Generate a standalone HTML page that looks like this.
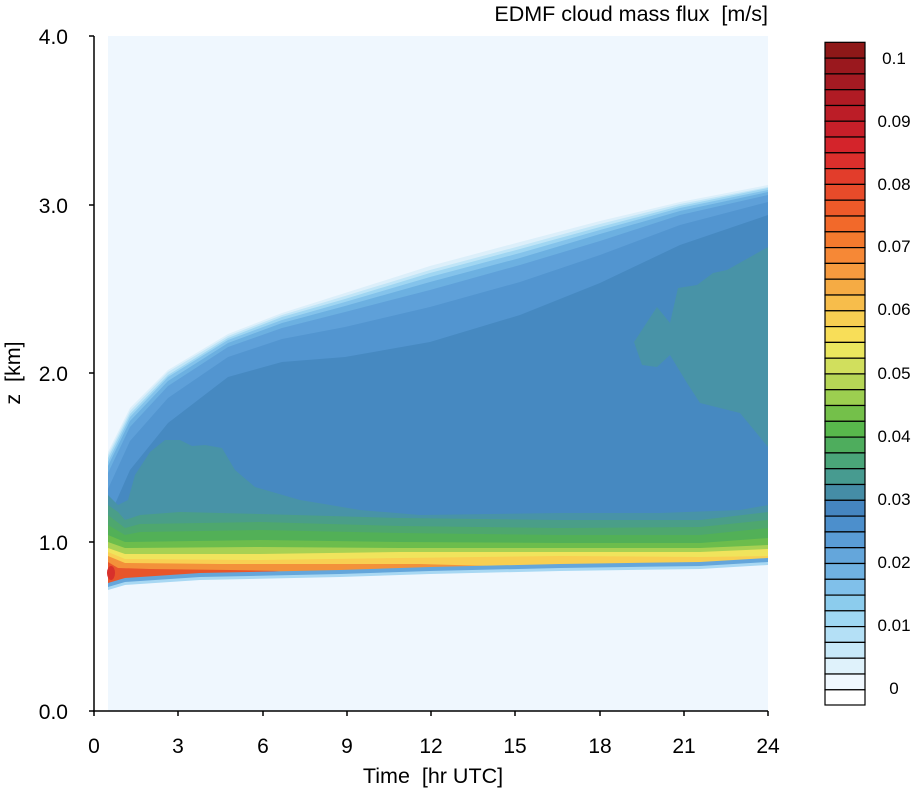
<!DOCTYPE html>
<html><head><meta charset="utf-8"><style>
html,body{margin:0;padding:0;background:#fff;}
svg{display:block;font-family:"Liberation Sans",sans-serif;}
text{white-space:pre;}
</style></head><body>
<svg width="913" height="792" viewBox="0 0 913 792" xmlns="http://www.w3.org/2000/svg">
<rect x="108" y="36" width="660" height="675" fill="#eff7fe"/>
<g stroke="none">
<polygon fill="#dceffa" points="108,452 130,408 168,370 228,334 282,313 345,293 430,266 520,242 600,221 680,202 768,185 768,600 108,600"/>
<polygon fill="#c0e5f7" points="108,455 130,411 168,372 228,336 282,315 345,296 430,270 520,246 600,224 680,204 768,187 768,600 108,600"/>
<polygon fill="#a0d6f2" points="108,458 130,414 168,375 228,338 282,317 345,299 430,273 520,249 600,227 680,206 768,188 768,600 108,600"/>
<polygon fill="#84c3eb" points="108,462 130,417 168,377 228,340 282,320 345,302 430,277 520,253 600,230 680,208 768,190 768,600 108,600"/>
<polygon fill="#6cb0e1" points="108,466 130,421 168,381 228,343 282,323 345,306 430,282 520,258 600,234 680,211 768,192 768,600 108,600"/>
<polygon fill="#5ea0d9" points="108,473 130,427 168,386 228,347 282,328 345,312 430,290 520,265 600,241 680,215 768,195 768,600 108,600"/>
<polygon fill="#5295d0" points="108,489 130,441 168,398 228,357 282,339 345,327 430,307 520,282 600,255 680,225 768,202 768,600 108,600"/>
<polygon fill="#4689c1" points="108,520 130,470 168,423 228,377 282,362 345,357 430,342 520,315 600,283 680,245 768,215 768,600 108,600"/>
<polygon fill="#4893a7" points="108,495 118,505 128,500 135,475 150,452 165,440 180,440 192,446 205,445 222,448 235,470 255,487 300,500 360,510 420,515 560,513 660,513 740,510 768,505 768,600 108,600"/>
<polygon fill="#4893a7" points="634,342 657,307 670,323 678,288 697,285 713,273 727,270 768,247 768,447 740,413 700,403 687,383 670,355 657,367 642,365"/>
<polygon fill="#4a9e88" points="108,505 118,512 125,520 140,515 180,512 260,514 400,518 560,520 700,520 768,512 768,600 108,600"/>
<polygon fill="#4ea76e" points="108,515 125,528 140,524 260,522 400,526 560,528 700,527 768,520 768,600 108,600"/>
<polygon fill="#52b057" points="108,525 125,535 140,532 260,530 400,533 560,535 700,535 768,528 768,600 108,600"/>
<polygon fill="#6cbd4c" points="108,535 125,542 260,540 400,542 560,543 700,543 768,538 768,600 108,600"/>
<polygon fill="#a8d153" points="108,542 125,548 260,547 400,548 560,548 700,548 768,545 768,600 108,600"/>
<polygon fill="#f0e45c" points="108,548 125,554 260,554 400,552 560,552 700,552 768,549 768,600 108,600"/>
<polygon fill="#f8cf52" points="108,552 125,559 260,560 400,558 560,556 700,557 768,556 768,600 108,600"/>
<polygon fill="#f3913a" points="108,556 125,563 220,564 340,564 420,564 490,566 510,572 108,590"/>
<polygon fill="#e8552b" points="108,562 118,568 150,569 230,570 280,571 240,574 108,590"/>
<ellipse cx="111" cy="573" rx="4" ry="7" fill="#d8302b"/>
<polygon fill="#64a6db" points="108,583 125,578 200,573 340,570 430,567 560,564 700,562 768,558 768,711 108,711"/>
<polygon fill="#a8d8f3" points="108,587 125,582 200,577 340,574 430,571 560,568 700,566 768,562 768,711 108,711"/>
<polygon fill="#eff7fe" points="108,590 125,585 200,580 340,577 430,574 560,571 700,569 768,565 768,711 108,711"/>
</g>
<g stroke="#000" stroke-width="1.5" fill="none">
<line x1="94" y1="36" x2="94" y2="712"/>
<line x1="93" y1="711" x2="768" y2="711"/>
<line x1="89" y1="36" x2="94" y2="36"/><line x1="89" y1="205" x2="94" y2="205"/><line x1="89" y1="373" x2="94" y2="373"/><line x1="89" y1="542" x2="94" y2="542"/><line x1="89" y1="711" x2="94" y2="711"/>
<line x1="94" y1="711" x2="94" y2="716"/><line x1="178" y1="711" x2="178" y2="716"/><line x1="263" y1="711" x2="263" y2="716"/><line x1="347" y1="711" x2="347" y2="716"/><line x1="431" y1="711" x2="431" y2="716"/><line x1="515" y1="711" x2="515" y2="716"/><line x1="600" y1="711" x2="600" y2="716"/><line x1="684" y1="711" x2="684" y2="716"/><line x1="768" y1="711" x2="768" y2="716"/>
</g>
<g font-size="21" fill="#000" text-anchor="end">
<text x="68" y="44">4.0</text><text x="68" y="213">3.0</text><text x="68" y="381">2.0</text><text x="68" y="550">1.0</text><text x="68" y="719">0.0</text>
</g>
<g font-size="21" fill="#000" text-anchor="middle">
<text x="94" y="753">0</text><text x="178" y="753">3</text><text x="263" y="753">6</text><text x="347" y="753">9</text><text x="431" y="753">12</text><text x="515" y="753">15</text><text x="600" y="753">18</text><text x="684" y="753">21</text><text x="768" y="753">24</text>
</g>
<text x="433" y="783" font-size="21.5" text-anchor="middle">Time  [hr UTC]</text>
<text transform="translate(20,373) rotate(-90)" font-size="21.5" text-anchor="middle">z  [km]</text>
<text x="768" y="21" font-size="21.5" text-anchor="end">EDMF cloud mass flux  [m/s]</text>
<g stroke="#000" stroke-width="1.2">
<rect x="825" y="42.3" width="40" height="15.79" fill="#8e1818"/>
<rect x="825" y="58.1" width="40" height="15.79" fill="#9a181e"/>
<rect x="825" y="73.9" width="40" height="15.79" fill="#a41a22"/>
<rect x="825" y="89.7" width="40" height="15.79" fill="#b01b24"/>
<rect x="825" y="105.5" width="40" height="15.79" fill="#bc1d27"/>
<rect x="825" y="121.2" width="40" height="15.79" fill="#c71f29"/>
<rect x="825" y="137.0" width="40" height="15.79" fill="#d4242b"/>
<rect x="825" y="152.8" width="40" height="15.79" fill="#dc2f2c"/>
<rect x="825" y="168.6" width="40" height="15.79" fill="#e23d2b"/>
<rect x="825" y="184.4" width="40" height="15.79" fill="#e84b2a"/>
<rect x="825" y="200.2" width="40" height="15.79" fill="#ee5a29"/>
<rect x="825" y="216.0" width="40" height="15.79" fill="#f2692a"/>
<rect x="825" y="231.8" width="40" height="15.79" fill="#f47a2e"/>
<rect x="825" y="247.6" width="40" height="15.79" fill="#f68836"/>
<rect x="825" y="263.4" width="40" height="15.79" fill="#f69a3e"/>
<rect x="825" y="279.2" width="40" height="15.79" fill="#f5ab44"/>
<rect x="825" y="295.0" width="40" height="15.79" fill="#f7bd4b"/>
<rect x="825" y="310.8" width="40" height="15.79" fill="#f8cf52"/>
<rect x="825" y="326.6" width="40" height="15.79" fill="#f8de58"/>
<rect x="825" y="342.4" width="40" height="15.79" fill="#eae65e"/>
<rect x="825" y="358.2" width="40" height="15.79" fill="#d1df5d"/>
<rect x="825" y="373.9" width="40" height="15.79" fill="#b6d656"/>
<rect x="825" y="389.7" width="40" height="15.79" fill="#9cce50"/>
<rect x="825" y="405.5" width="40" height="15.79" fill="#74c04a"/>
<rect x="825" y="421.3" width="40" height="15.79" fill="#58b84c"/>
<rect x="825" y="437.1" width="40" height="15.79" fill="#4ead5d"/>
<rect x="825" y="452.9" width="40" height="15.79" fill="#4aa579"/>
<rect x="825" y="468.7" width="40" height="15.79" fill="#479b90"/>
<rect x="825" y="484.5" width="40" height="15.79" fill="#458da6"/>
<rect x="825" y="500.3" width="40" height="15.79" fill="#4585c0"/>
<rect x="825" y="516.1" width="40" height="15.79" fill="#4c8fcc"/>
<rect x="825" y="531.9" width="40" height="15.79" fill="#5a9cd6"/>
<rect x="825" y="547.7" width="40" height="15.79" fill="#64a6db"/>
<rect x="825" y="563.5" width="40" height="15.79" fill="#70b2e2"/>
<rect x="825" y="579.3" width="40" height="15.79" fill="#80c0ea"/>
<rect x="825" y="595.1" width="40" height="15.79" fill="#8ccced"/>
<rect x="825" y="610.8" width="40" height="15.79" fill="#9fd8f3"/>
<rect x="825" y="626.6" width="40" height="15.79" fill="#b4e0f6"/>
<rect x="825" y="642.4" width="40" height="15.79" fill="#c8e9f9"/>
<rect x="825" y="658.2" width="40" height="15.79" fill="#dff2fb"/>
<rect x="825" y="674.0" width="40" height="15.79" fill="#f0f8fe"/>
<rect x="825" y="689.8" width="40" height="15.2" fill="#ffffff"/>
</g>
<g font-size="17" fill="#000" text-anchor="middle">
<text x="894" y="64">0.1</text><text x="894" y="127">0.09</text><text x="894" y="190">0.08</text><text x="894" y="252">0.07</text><text x="894" y="315">0.06</text><text x="894" y="379">0.05</text><text x="894" y="442">0.04</text><text x="894" y="505">0.03</text><text x="894" y="568">0.02</text><text x="894" y="631">0.01</text><text x="894" y="694">0</text>
</g>
</svg>
</body></html>
